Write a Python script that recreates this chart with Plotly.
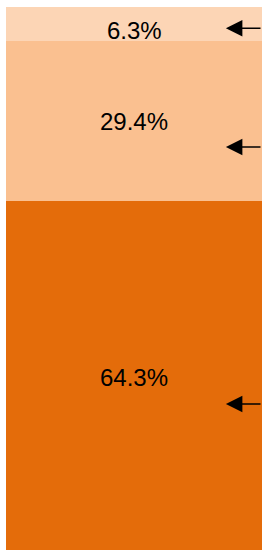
import plotly.graph_objects as go

categories = ["Total"]
segment_labels = ["64.3%", "29.4%", "6.3%"]
segment_values = [64.3, 29.4, 6.3]
segment_colors = ["#E46C0A", "#FAC090", "#FCD5B5"]
arrow_y = [26.9, 74.2, 96.1]

fig = go.Figure()
for lab, val, col in zip(segment_labels, segment_values, segment_colors):
    fig.add_trace(go.Bar(
        x=categories, y=[val], marker=dict(color=col, line=dict(width=0)),
        width=1, showlegend=False, hoverinfo="skip",
    ))

base = 0
label_shift = [-2, 0, -6]
for lab, val, sh in zip(segment_labels, segment_values, label_shift):
    fig.add_annotation(x=categories[0], y=base + val / 2, text=lab, showarrow=False,
                       xref="x", yref="y", yshift=sh,
                       font=dict(family="Liberation Sans, Arial", size=24, color="black"))
    base += val

for ay in arrow_y:
    fig.add_annotation(x=0.859, y=ay, xref="paper", yref="y", text="",
                       showarrow=True, arrowhead=2, arrowsize=2.2, arrowwidth=1.5,
                       arrowcolor="black", ax=50, ay=0, axref="pixel", ayref="pixel",
                       standoff=0)

fig.update_layout(
    barmode="stack", width=262, height=550,
    margin=dict(l=6, r=0, t=7, b=0),
    paper_bgcolor="white", plot_bgcolor="white",
    xaxis=dict(visible=False, range=[-0.5, 0.5]),
    yaxis=dict(visible=False, range=[0, 100]),
    bargap=0,
)
fig.write_html("out.html", config={"displayModeBar": False},
               post_script="document.body.style.margin='0px';document.body.style.overflow='hidden';")
